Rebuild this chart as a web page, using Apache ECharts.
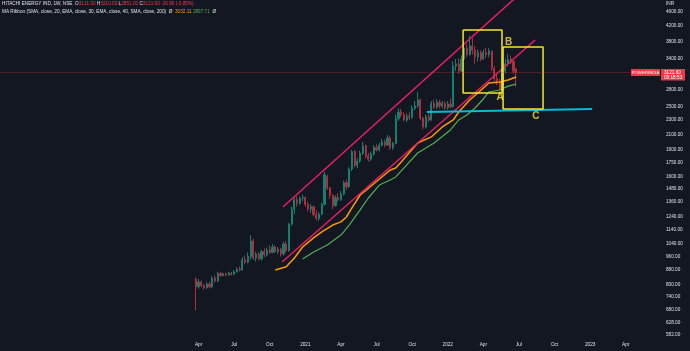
<!DOCTYPE html>
<html><head><meta charset="utf-8">
<script src="https://cdn.jsdelivr.net/npm/echarts@6/dist/echarts.min.js"></script>
<style>html,body{margin:0;padding:0;background:#131722;overflow:hidden}#c{width:690px;height:351px}</style>
</head><body><div id="c"></div>
<script>
// ---- data ----
const weekStart = '2018-11-19';      // Monday of first weekly category
const weekCount = 241;
const firstCandleWeek = 71;          // week of 2020-03-30
const firstLabelWeek = 70;           // time labels start with Apr 2020
const opens  = [830,790,815,795,785,805,790,835,820,860,850,858,852,862,856,870,885,880,940,925,960,1060,950,975,945,990,970,1000,985,1020,990,1005,975,1040,995,1180,1300,1380,1350,1395,1400,1340,1300,1320,1255,1225,1260,1340,1600,1490,1420,1330,1400,1380,1430,1540,1500,1680,1880,1720,1770,1860,1950,1830,1790,1850,1930,1900,1960,2000,1960,2050,1930,1980,2320,2420,2380,2300,2360,2340,2480,2520,2620,2330,2200,2350,2300,2560,2500,2580,2520,2560,2490,2550,2510,3250,3300,3150,3400,3650,3500,3700,3600,3450,3550,3400,3550,3500,3580,3200,3000,2950,2800,3150,3300,3400,3350,3190];
const closes = [790,815,795,785,805,790,835,820,860,850,858,852,862,856,870,885,880,940,925,960,1060,950,975,945,990,970,1000,985,1020,990,1005,975,1040,995,1180,1300,1380,1350,1395,1400,1340,1300,1320,1255,1225,1260,1340,1620,1490,1420,1330,1400,1380,1430,1540,1500,1680,1880,1720,1770,1860,1950,1830,1790,1850,1930,1900,1960,2000,1960,2050,1930,1980,2320,2420,2380,2300,2360,2340,2480,2520,2620,2330,2200,2350,2300,2560,2500,2580,2520,2560,2490,2550,2510,3250,3300,3150,3400,3650,3500,3700,3600,3450,3550,3400,3550,3500,3580,3200,3000,2950,2800,3150,3300,3400,3350,3148.4,3121.6];
const lows   = [680,780,788,775,780,782,785,812,815,842,845,845,848,850,852,865,872,876,915,918,940,940,930,935,935,955,960,975,980,980,975,960,965,985,990,1170,1260,1320,1335,1370,1320,1280,1270,1240,1210,1205,1250,1330,1470,1390,1300,1320,1360,1370,1420,1470,1490,1660,1700,1690,1750,1840,1800,1760,1770,1830,1880,1880,1940,1930,1950,1900,1900,1970,2290,2340,2280,2270,2300,2320,2450,2490,2300,2170,2180,2270,2290,2470,2470,2480,2480,2460,2460,2480,2490,3150,3100,3130,3380,3450,3480,3500,3300,3350,3350,3380,3420,3440,3150,2950,2880,2750,2780,3100,3250,3300,3100,2851];
const highs  = [840,830,822,805,812,815,845,850,870,868,866,865,870,870,880,895,900,955,965,985,1100,1075,990,985,1000,1010,1015,1030,1040,1030,1020,1015,1055,1060,1190,1320,1400,1410,1410,1425,1410,1360,1345,1330,1290,1275,1355,1650,1620,1500,1430,1420,1440,1460,1560,1570,1700,1900,1900,1800,1890,2000,1970,1860,1880,1960,1970,1990,2040,2030,2090,2080,2000,2380,2480,2470,2420,2400,2420,2530,2600,2750,2640,2350,2380,2400,2600,2620,2630,2620,2600,2590,2600,2640,3350,3400,3420,3480,3800,3750,3950,3900,3700,3620,3600,3620,3650,3650,3600,3250,3100,3000,3230,3400,3520,3480,3380,3210];
const ema30 = [[100,880],[104,898],[107,950],[110,1020],[114,1081],[117,1123],[121,1174],[124,1198],[126,1236],[128,1310],[131,1423],[135,1508],[142,1671],[144,1692],[146,1759],[152,1986],[157,2065],[161,2201],[165,2302],[167,2423],[171,2617],[174,2737],[176,2826],[178,2918],[182,2937],[185,2975],[188,3032.11]];
const ema40 = [[110,944],[114,988],[119,1033],[124,1101],[127,1174],[131,1293],[134,1396],[138,1517],[142,1567],[144,1598],[152,1863],[158,1986],[164,2159],[167,2302],[170,2377],[173,2486],[176,2634],[178,2755],[182,2790],[185,2860],[188,2897.71]];
const yTickValues = [582,628,680,740,800,880,960,1040,1140,1240,1360,1480,1600,1750,1900,2100,2300,2500,2800,3400,3800,4200,4600];
const yRange = [569, 4968];
const upperTrend = [[102.8,1318],[192,5390]];
const lowerTrend = [[102.5,926],[194.9,3844]];
const supportLine = [[155.4,2423],[215.7,2470]];
const boxA = [[168.6,4099],[182.8,2737]];
const boxB = [[183.2,3676],[197.8,2470]];
const pointLabels = [['A',182.1,2668],['B',185.2,3795],['C',195.2,2362]];
const lastPrice = 3121.6;
const monthNames = ['Jan','Feb','Mar','Apr','May','Jun','Jul','Aug','Sep','Oct','Nov','Dec'];

// ---- build ----
const L = Math.log;
const categories = [], xLabels = [];
const t0 = Date.parse(weekStart + 'T00:00:00Z');
for (let i = 0; i < weekCount; i++) {
  const d = new Date(t0 + i * 7 * 86400000);
  const p = new Date(t0 + (i - 1) * 7 * 86400000);
  categories.push(d.toISOString().slice(0, 10));
  const m = d.getUTCMonth();
  if (i >= firstLabelWeek && m !== p.getUTCMonth() && m % 3 === 0) {
    xLabels.push(m === 0 ? String(d.getUTCFullYear()) : monthNames[m]);
  } else xLabels.push('');
}
const candleData = opens.map((o, k) => [firstCandleWeek + k, L(o), L(closes[k]), L(lows[k]), L(highs[k])]);
const toXY = arr => arr.map(p => [p[0], L(p[1])]);
const rectPts = b => toXY([[b[0][0], b[0][1]], [b[1][0], b[0][1]], [b[1][0], b[1][1]], [b[0][0], b[1][1]], [b[0][0], b[0][1]]]);
const txt = '#dfe2e8';
const FONT = 'Liberation Sans';
const FS = 4.7;

function lineSeries(data, color, width) {
  return { type: 'line', xAxisIndex: 1, yAxisIndex: 0, data: data, symbol: 'none', silent: true,
    lineStyle: { color: color, width: width }, itemStyle: { color: color }, z: 3 };
}
const rs = c => ({ color: c, fontSize: FS, fontFamily: FONT, fontWeight: 'normal' });

const chart = echarts.init(document.getElementById('c'), null, { renderer: 'canvas' });
const option = {
  backgroundColor: '#131722',
  animation: false,
  textStyle: { fontFamily: FONT },
  title: [
    { left: 2, top: 1, padding: 0,
      text: '{n|HITACHI ENERGY IND, 1W, NSE}  {n|O}{v|3121.00} {n|H}{v|3210.00} {n|L}{v|2851.00} {n|C}{v|3121.60} {v|-26.80 (-0.85%)}',
      textStyle: { fontWeight: 'normal', fontSize: FS, rich: { n: rs(txt), v: rs('#f23645') } } },
    { left: 2, top: 9, padding: 0,
      text: '{n|MA Ribbon (SMA, close, 20, EMA, close, 30, EMA, close, 40, SMA, close, 200)}  {n|Ø}  {o|3032.11} {g|2897.71}  {n|Ø}',
      textStyle: { fontWeight: 'normal', fontSize: FS, rich: { n: rs(txt), o: rs('#ff9800'), g: rs('#4caf50') } } },
    { left: 666, top: 1, padding: 0, text: 'INR', textStyle: { color: txt, fontSize: FS, fontWeight: 'normal', fontFamily: FONT } }
  ],
  grid: { left: 0, right: 30, top: 0, bottom: 13, containLabel: false },
  xAxis: [
    { type: 'category', data: categories, boundaryGap: true,
      axisLine: { show: false }, axisTick: { show: false }, splitLine: { show: false },
      axisLabel: { interval: (i) => !!xLabels[i], formatter: (v, i) => xLabels[i], color: txt, fontSize: FS, margin: 4, hideOverlap: false } },
    { type: 'value', min: -0.5, max: weekCount - 0.5, show: false }
  ],
  yAxis: { type: 'value', position: 'right', min: L(yRange[0]), max: L(yRange[1]),
    axisLine: { show: false }, axisTick: { show: false }, splitLine: { show: false },
    axisLabel: { customValues: yTickValues.map(L), formatter: v => Math.exp(v).toFixed(2), color: txt, fontSize: FS, margin: 6, align: 'left' } },
  series: [
    { type: 'candlestick', xAxisIndex: 0, yAxisIndex: 0, data: candleData, encode: { x: 0, y: [1, 2, 3, 4] },
      barWidth: '60%',
      itemStyle: { color: '#13806f', color0: '#b02d3d', borderColor: '#13806f', borderColor0: '#b02d3d', borderWidth: 1 },
      markLine: { silent: true, symbol: 'none', data: [{ yAxis: L(lastPrice) }],
        lineStyle: { color: '#f23645', type: 'solid', width: 1, opacity: 0.25 }, label: { show: false } } },
    lineSeries(toXY(ema30), '#ff9800', 1.5),
    lineSeries(toXY(ema40), '#4caf50', 1.2),
    lineSeries(toXY(upperTrend), '#e91e63', 1.5),
    lineSeries(toXY(lowerTrend), '#e91e63', 1.5),
    lineSeries(toXY(supportLine), '#00bcd4', 2),
    lineSeries(rectPts(boxA), '#f5e52b', 1.5),
    lineSeries(rectPts(boxB), '#f5e52b', 1.5),
    { type: 'scatter', xAxisIndex: 1, yAxisIndex: 0, silent: true, symbolSize: 1,
      itemStyle: { color: 'rgba(0,0,0,0)' },
      data: pointLabels.map(p => ({ name: p[0], value: [p[1], L(p[2])] })),
      label: { show: true, position: 'inside', formatter: '{b}', color: '#f5e52b', fontSize: 10, fontWeight: 'bold', fontFamily: FONT }, z: 5 }
  ]
};
chart.setOption(option);

const py = chart.convertToPixel({ yAxisIndex: 0 }, L(lastPrice));
chart.setOption({
  graphic: [
    { type: 'rect', shape: { x: 631, y: py - 3.5, width: 29, height: 7 }, style: { fill: '#f23645' }, z: 10 },
    { type: 'text', x: 645.5, y: py, style: { text: 'POWERINDIA', fill: '#ffffff', fontSize: 4.3, fontFamily: FONT, align: 'center', verticalAlign: 'middle' }, z: 11 },
    { type: 'rect', shape: { x: 661, y: py - 3.5, width: 24, height: 11.5 }, style: { fill: '#f23645' }, z: 10 },
    { type: 'text', x: 664, y: py, style: { text: lastPrice.toFixed(2), fill: '#ffffff', fontSize: FS, fontFamily: FONT, align: 'left', verticalAlign: 'middle' }, z: 11 },
    { type: 'text', x: 664, y: py + 5, style: { text: '09:18:53', fill: '#ffffff', fontSize: FS, fontFamily: FONT, align: 'left', verticalAlign: 'middle' }, z: 11 }
  ]
});
</script></body></html>
